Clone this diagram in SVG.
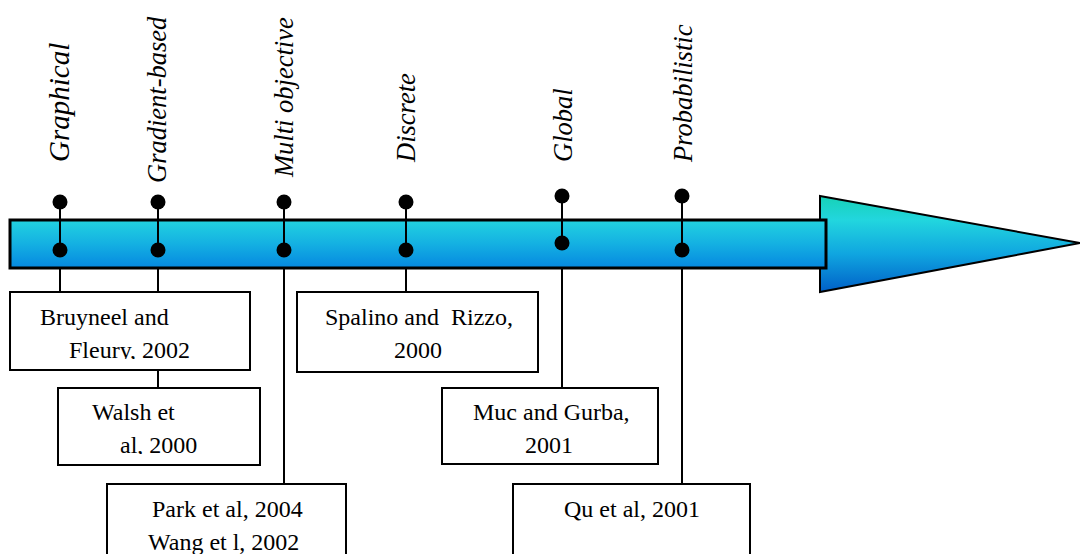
<svg xmlns="http://www.w3.org/2000/svg" width="1080" height="554" viewBox="0 0 1080 554">
<defs>
<linearGradient id="gBody" x1="0" y1="0" x2="0" y2="1">
<stop offset="0" stop-color="#22d3e0"/>
<stop offset="0.5" stop-color="#14b0e2"/>
<stop offset="1" stop-color="#0588e0"/>
</linearGradient>
<linearGradient id="gHead" x1="0" y1="0" x2="0" y2="1">
<stop offset="0" stop-color="#16d2b6"/>
<stop offset="0.25" stop-color="#22d6de"/>
<stop offset="0.6" stop-color="#10a6e0"/>
<stop offset="1" stop-color="#0060c8"/>
</linearGradient>
<clipPath id="c1"><rect x="10" y="292" width="240" height="67"/></clipPath>
<clipPath id="c2"><rect x="58" y="388" width="202" height="66"/></clipPath>
</defs>
<style>
.box{fill:#fff;stroke:#000;stroke-width:2}
.ln{stroke:#000;stroke-width:2;fill:none}
.dot{fill:#000}
.t{font-family:"Liberation Serif","Times New Roman",serif;font-size:24px;fill:#000}
.lab{font-family:"Liberation Serif","Times New Roman",serif;font-size:26.5px;font-style:italic;fill:#000}
</style>
<g id="arrow">
<polygon points="820,196 1080,243 820,292" fill="url(#gHead)" stroke="#000" stroke-width="2"/>
<rect x="10" y="220" width="816" height="48" fill="url(#gBody)" stroke="#000" stroke-width="3"/>
</g>
<g id="connectors">
<line class="ln" x1="60" y1="202" x2="60" y2="250"/>
<line class="ln" x1="158" y1="202" x2="158" y2="250"/>
<line class="ln" x1="284" y1="202" x2="284" y2="250"/>
<line class="ln" x1="406" y1="202" x2="406" y2="250"/>
<line class="ln" x1="562" y1="196" x2="562" y2="243"/>
<line class="ln" x1="682" y1="196" x2="682" y2="250"/>
<line class="ln" x1="60" y1="268" x2="60" y2="292"/>
<line class="ln" x1="158" y1="268" x2="158" y2="292"/>
<line class="ln" x1="158" y1="370" x2="158" y2="388"/>
<line class="ln" x1="284" y1="268" x2="284" y2="484"/>
<line class="ln" x1="406" y1="268" x2="406" y2="292"/>
<line class="ln" x1="562" y1="268" x2="562" y2="388"/>
<line class="ln" x1="682" y1="268" x2="682" y2="484"/>
</g>
<g id="pins">
<circle class="dot" cx="60" cy="202" r="7.5"/><circle class="dot" cx="60" cy="250" r="7.5"/>
<circle class="dot" cx="158" cy="202" r="7.5"/><circle class="dot" cx="158" cy="250" r="7.5"/>
<circle class="dot" cx="284" cy="202" r="7.5"/><circle class="dot" cx="284" cy="250" r="7.5"/>
<circle class="dot" cx="406" cy="202" r="7.5"/><circle class="dot" cx="406" cy="250" r="7.5"/>
<circle class="dot" cx="562" cy="196" r="7.5"/><circle class="dot" cx="562" cy="243" r="7.5"/>
<circle class="dot" cx="682" cy="196" r="7.5"/><circle class="dot" cx="682" cy="250" r="7.5"/>
</g>
<g id="labels">
<text class="lab" transform="translate(69,162) rotate(-90)" style="font-size:29px">Graphical</text>
<text class="lab" transform="translate(166,183) rotate(-90)">Gradient-based</text>
<text class="lab" transform="translate(293,177) rotate(-90)">Multi objective</text>
<text class="lab" transform="translate(415,162) rotate(-90)">Discrete</text>
<text class="lab" transform="translate(572,162) rotate(-90)">Global</text>
<text class="lab" transform="translate(692,162) rotate(-90)">Probabilistic</text>
</g>
<g id="node-bruyneel">
<rect class="box" x="10" y="292" width="240" height="78"/>
<g clip-path="url(#c1)">
<text class="t" x="40" y="325">Bruyneel and</text>
<text class="t" x="69" y="358">Fleury, 2002</text>
</g>
</g>
<g id="node-walsh">
<rect class="box" x="58" y="388" width="202" height="77"/>
<g clip-path="url(#c2)">
<text class="t" x="92" y="420">Walsh et</text>
<text class="t" x="120" y="453">al, 2000</text>
</g>
</g>
<g id="node-park">
<rect class="box" x="107" y="484" width="239" height="80"/>
<text class="t" x="152" y="517">Park et al, 2004</text>
<text class="t" x="148" y="550">Wang et l, 2002</text>
</g>
<g id="node-spalino">
<rect class="box" x="297" y="292" width="241" height="80"/>
<text class="t" x="325" y="325" xml:space="preserve">Spalino and  Rizzo,</text>
<text class="t" x="418" y="358" text-anchor="middle">2000</text>
</g>
<g id="node-muc">
<rect class="box" x="442" y="388" width="216" height="76"/>
<text class="t" x="473" y="420">Muc and Gurba,</text>
<text class="t" x="549" y="453" text-anchor="middle">2001</text>
</g>
<g id="node-qu">
<rect class="box" x="513" y="484" width="237" height="80"/>
<text class="t" x="564" y="517">Qu et al, 2001</text>
</g>
</svg>
